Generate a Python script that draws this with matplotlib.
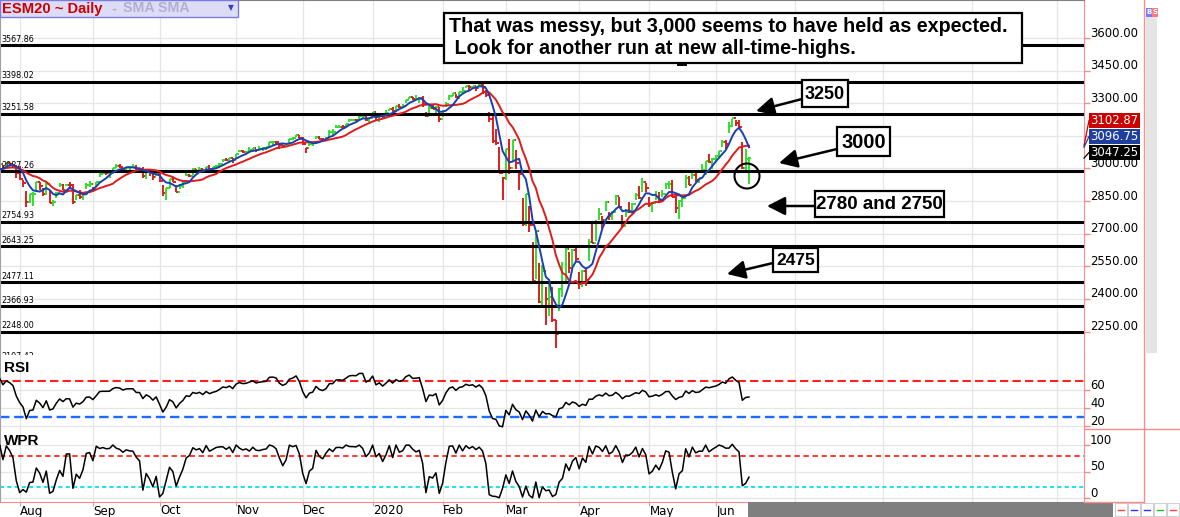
import numpy as np
import pandas as pd
import matplotlib
matplotlib.use("Agg")
import matplotlib.pyplot as plt
import matplotlib.transforms as mtransforms
from matplotlib.patches import Rectangle, FancyArrowPatch, Ellipse
from matplotlib.lines import Line2D

# ---------------- data ----------------
holidays = ['2019-07-04', '2019-09-02', '2019-11-28', '2019-12-25', '2020-01-01',
            '2020-01-20', '2020-02-17', '2020-04-10', '2020-05-25']
first_shown = '2019-07-25'

closes = [
    2964.3, 2973.0, 2995.8, 2990.4, 2976.0, 2979.6, 2993.1, 3004.0, 3013.8, 3014.3, 3004.0, 2984.4, 2995.1, 2976.6, 2985.0, 3005.5, 3019.6, 3003.7, 3025.9, 3021.0, 3013.2, 2980.4,
    2953.6, 2932.1, 2844.7, 2881.8, 2884.0, 2938.1, 2918.7, 2882.7, 2926.3, 2840.6, 2847.6, 2888.7, 2923.7, 2900.5, 2924.4, 2923.0, 2847.1, 2878.4, 2869.2, 2887.9, 2924.6, 2926.5,
    2906.3, 2937.8, 2976.0, 2978.7, 2978.4, 2979.4, 3000.9, 3009.6, 3007.4, 2998.0, 3005.7, 3006.7, 3006.8, 2992.1, 2991.8, 2966.6, 2984.9, 2977.6, 2961.8, 2976.7,
    2940.3, 2887.6, 2910.6, 2952.0, 2938.8, 2893.1, 2919.4, 2938.1, 2970.3, 2966.2, 2995.7, 2989.7, 2998.0, 2986.2, 3006.7, 2996.0, 3004.5, 3010.3, 3022.6, 3039.4, 3036.9, 3046.8, 3037.6,
    3066.9, 3078.3, 3074.6, 3076.8, 3085.2, 3093.1, 3087.0, 3091.8, 3094.0, 3096.6, 3120.5, 3122.0, 3120.2, 3108.5, 3103.5, 3110.3, 3133.6, 3140.5, 3153.6, 3141.0,
    3113.9, 3093.2, 3112.8, 3117.4, 3145.9, 3136.0, 3132.5, 3141.6, 3168.6, 3168.8, 3191.5, 3192.5, 3191.1, 3205.4, 3221.2, 3224.0, 3223.4, 3239.9, 3240.0, 3221.3, 3230.8,
    3257.9, 3234.9, 3246.3, 3237.2, 3253.1, 3274.7, 3265.4, 3288.1, 3283.2, 3289.3, 3316.8, 3329.6, 3320.8, 3321.8, 3325.5, 3295.5, 3243.6, 3276.2, 3273.4, 3283.7, 3225.5,
    3248.9, 3297.6, 3334.7, 3345.8, 3327.7, 3352.1, 3357.8, 3379.5, 3373.9, 3380.2, 3370.3, 3386.2, 3373.2, 3337.8, 3225.9, 3128.2, 3116.4, 2978.8, 2954.2,
    3090.2, 3003.4, 3130.1, 3023.9, 2972.4, 2746.6, 2882.2, 2741.4, 2480.6, 2711.0, 2386.1, 2529.2, 2398.1, 2409.4, 2304.9, 2237.4, 2447.3, 2475.6, 2630.1, 2541.5, 2626.7, 2584.6,
    2470.5, 2526.9, 2488.7, 2663.7, 2659.4, 2750.0, 2789.8, 2761.6, 2846.1, 2783.4, 2799.6, 2874.6, 2823.2, 2736.6, 2799.3, 2797.8, 2836.7, 2878.5, 2863.4, 2939.5, 2912.4,
    2830.7, 2842.7, 2868.4, 2848.4, 2881.2, 2929.8, 2930.3, 2870.1, 2820.0, 2852.5, 2863.7, 2953.9, 2922.9, 2971.6, 2948.5, 2955.5, 2991.8, 3036.1, 3029.7, 3044.3,
    3055.7, 3080.8, 3122.9, 3112.4, 3193.9, 3232.4, 3207.2, 3190.1, 3002.1, 3041.3, 3047.3,
]
highs = [
    2977.9, 2973.2, 2995.8, 2994.0, 2980.8, 2980.0, 3002.0, 3006.0, 3013.9, 3017.8, 3015.0, 3005.0, 2995.1, 3006.0, 2990.0, 3005.9, 3019.6, 3016.3, 3027.0, 3025.6, 3017.4, 3017.4,
    3013.6, 2945.5, 2898.1, 2884.4, 2892.2, 2938.7, 2935.9, 2909.0, 2943.3, 2900.0, 2856.7, 2893.6, 2931.0, 2927.0, 2928.7, 2939.1, 2927.0, 2879.3, 2898.8, 2890.0, 2930.9, 2940.4,
    2914.4, 2938.0, 2985.9, 2985.0, 2989.4, 2979.4, 3000.9, 3020.7, 3021.0, 3002.2, 3006.2, 3007.8, 3021.9, 3016.4, 2999.6, 3007.4, 2989.8, 2987.3, 2987.3, 2983.9,
    2992.5, 2925.0, 2911.1, 2953.0, 2959.8, 2925.5, 2929.3, 2948.5, 2993.3, 2972.3, 3003.3, 2997.5, 3008.3, 2999.7, 3008.3, 3014.6, 3004.8, 3016.1, 3027.4, 3044.0, 3047.9, 3050.1, 3047.0,
    3066.9, 3084.7, 3083.9, 3078.3, 3097.8, 3093.1, 3088.3, 3102.6, 3098.1, 3098.1, 3120.5, 3124.0, 3127.6, 3119.0, 3110.1, 3112.9, 3133.8, 3142.7, 3154.3, 3154.3,
    3144.3, 3094.9, 3119.4, 3119.5, 3150.6, 3148.9, 3142.1, 3143.0, 3176.3, 3182.7, 3197.7, 3198.2, 3198.5, 3205.5, 3225.6, 3227.8, 3226.4, 3240.1, 3247.9, 3240.9, 3231.7,
    3258.1, 3246.2, 3246.8, 3244.9, 3267.1, 3275.6, 3282.0, 3288.1, 3294.3, 3298.7, 3317.1, 3329.9, 3329.5, 3337.8, 3326.9, 3333.2, 3258.9, 3285.8, 3293.5, 3285.9, 3282.5,
    3268.4, 3306.9, 3337.6, 3348.0, 3341.4, 3352.3, 3375.6, 3381.5, 3385.1, 3380.7, 3375.0, 3393.5, 3393.5, 3360.8, 3259.8, 3246.9, 3182.5, 3097.4, 2959.7,
    3090.9, 3136.7, 3130.9, 3083.0, 2985.9, 2863.9, 2882.6, 2825.6, 2660.9, 2711.3, 2562.9, 2553.9, 2453.6, 2466.9, 2453.0, 2300.7, 2449.7, 2571.4, 2637.0, 2615.9, 2631.8, 2641.4,
    2522.8, 2533.2, 2538.2, 2676.5, 2756.9, 2760.8, 2818.6, 2782.5, 2851.9, 2801.9, 2806.5, 2879.2, 2868.3, 2785.5, 2815.1, 2844.9, 2842.7, 2887.7, 2921.4, 2954.9, 2930.9,
    2869.6, 2844.2, 2898.2, 2891.1, 2901.2, 2932.2, 2944.3, 2945.8, 2874.1, 2852.8, 2865.0, 2968.1, 2964.2, 2980.3, 2978.5, 2956.8, 3021.7, 3036.3, 3068.7, 3049.2,
    3062.2, 3081.1, 3130.9, 3128.9, 3211.7, 3228.0, 3222.7, 3223.3, 3123.4, 3090.0, 3055.0,
]
lows = [
    2952.2, 2955.0, 2977.0, 2967.0, 2970.0, 2962.0, 2984.0, 2988.0, 3001.0, 3008.0, 3001.0, 2984.0, 2970.0, 2975.0, 2976.0, 2988.0, 2996.0, 2996.0, 3008.0, 3013.0, 3000.0, 2958.0,
    2945.2, 2914.1, 2822.1, 2839.6, 2825.7, 2891.1, 2900.1, 2873.1, 2877.1, 2839.6, 2825.5, 2862.0, 2913.5, 2899.5, 2917.1, 2904.0, 2834.9, 2856.0, 2860.0, 2853.1, 2905.4, 2914.0,
    2891.9, 2921.1, 2960.0, 2972.3, 2969.4, 2957.0, 2975.3, 3000.9, 3003.0, 2990.7, 2993.7, 2978.6, 3003.2, 2982.2, 2982.2, 2957.1, 2953.0, 2964.1, 2945.5, 2967.1,
    2938.5, 2874.9, 2855.9, 2911.6, 2935.8, 2892.3, 2907.4, 2912.1, 2963.4, 2962.0, 2969.0, 2985.8, 2991.2, 2976.9, 2995.4, 2995.3, 2988.3, 3000.4, 3001.9, 3032.0, 3034.2, 3023.7, 3023.2,
    3050.1, 3074.4, 3070.3, 3065.9, 3080.4, 3073.6, 3075.4, 3084.7, 3078.8, 3083.3, 3104.6, 3109.0, 3113.5, 3091.4, 3094.6, 3099.3, 3117.4, 3131.0, 3143.4, 3139.3,
    3110.1, 3070.3, 3102.5, 3103.8, 3134.6, 3135.5, 3126.1, 3133.3, 3138.5, 3154.3, 3184.0, 3191.0, 3191.1, 3192.3, 3216.0, 3222.0, 3220.5, 3227.8, 3234.4, 3216.6, 3212.0,
    3235.5, 3222.0, 3214.6, 3232.9, 3236.7, 3263.7, 3260.4, 3268.4, 3277.2, 3280.7, 3302.0, 3318.9, 3316.6, 3320.0, 3301.9, 3281.5, 3234.5, 3250.0, 3271.9, 3242.8, 3214.6,
    3235.7, 3280.6, 3313.8, 3334.2, 3322.0, 3317.8, 3352.7, 3369.7, 3360.5, 3367.0, 3355.6, 3378.8, 3340.3, 3328.5, 3214.7, 3118.8, 3108.0, 2977.0, 2855.8,
    2945.2, 2976.6, 3034.4, 2999.8, 2901.5, 2734.4, 2734.0, 2707.2, 2478.9, 2492.4, 2380.9, 2367.0, 2280.5, 2319.8, 2295.6, 2174.0, 2345.0, 2407.0, 2467.0, 2520.0, 2545.0, 2571.0,
    2447.5, 2455.8, 2459.0, 2574.7, 2657.7, 2664.2, 2762.4, 2721.2, 2805.1, 2761.5, 2764.3, 2830.1, 2820.0, 2727.1, 2775.9, 2794.3, 2791.8, 2852.9, 2860.2, 2894.0, 2892.5,
    2821.6, 2797.9, 2852.8, 2847.7, 2866.5, 2903.4, 2903.4, 2869.6, 2793.2, 2766.6, 2820.5, 2909.0, 2922.1, 2953.6, 2938.6, 2933.6, 2988.2, 2969.8, 3023.4, 2998.6,
    3031.5, 3051.6, 3098.0, 3090.4, 3163.3, 3193.0, 3193.1, 3181.5, 2999.4, 2984.0, 2930.0,
]

support_levels = [3567.86, 3398.02, 3251.58, 2987.26, 2754.93, 2643.25, 2477.11, 2366.93, 2248.00, 2107.42]
price_ticks = [2250, 2400, 2550, 2700, 2850, 3000, 3150, 3300, 3450, 3600]
hidden_price_labels = [3150]          # covered by the last-value tags in the reference
rsi_ticks = [20, 40, 60]
wpr_ticks = [0, 50, 100]
rsi_levels = [70, 30]
wpr_levels = [80, 20]
month_labels = ['Aug', 'Sep', 'Oct', 'Nov', 'Dec', '2020', 'Feb', 'Mar', 'Apr', 'May', 'Jun',
                'Jul', 'Aug', 'Sep', 'Oct']
last_labels = ['3102.87', '3096.75', '3047.25']
notes = ['3250', '3000', '2780 and 2750', '2475']
headline = ['That was messy, but 3,000 seems to have held as expected.',
            ' Look for another run at new all-time-highs.']

# ---------------- derived series ----------------
dates = pd.bdate_range('2019-07-01', '2020-06-15', freq='C', holidays=holidays)
df = pd.DataFrame({'close': closes, 'high': highs, 'low': lows}, index=dates)
df['open'] = df['close'].shift(1).fillna(df['close'])
n0 = int(np.searchsorted(dates, pd.Timestamp(first_shown)))
x = np.arange(len(df)) - n0
sma_fast = df['close'].rolling(5).mean()
sma_slow = df['close'].rolling(13).mean()
delta = df['close'].diff()
gain = delta.clip(lower=0).ewm(alpha=1/14, adjust=False).mean()
loss = (-delta.clip(upper=0)).ewm(alpha=1/14, adjust=False).mean()
rsi = 100 - 100 / (1 + gain / loss)
hh = df['high'].rolling(14, min_periods=1).max()
ll = df['low'].rolling(14, min_periods=1).min()
wpr = (df['close'] - ll) / (hh - ll) * 100

month_starts = pd.date_range('2019-08-01', '2020-10-01', freq='MS')
month_x = []
for m in month_starts:
    if m <= dates[-1]:
        month_x.append(x[np.searchsorted(dates, m)])
    else:
        month_x.append(x[-1] + (m - dates[-1]).days * 6 / 7)

# ---------------- figure ----------------
W, H = 1180, 517
plt.rcParams['font.family'] = ['DejaVu Sans']
fig = plt.figure(figsize=(W / 100, H / 100), dpi=100)
fig.patch.set_facecolor('white')


def fx(px):
    return px / W


def fy(py):
    return 1 - py / H


AXR = 1084
XL = (-0.9, 324.6)
GRID = '#e6e6e6'
AXRED = '#ff8a8a'

ax = fig.add_axes([0, fy(355), fx(AXR), 355 / H])
ax_r = fig.add_axes([0, fy(429), fx(AXR), 74 / H])
ax_w = fig.add_axes([0, fy(502), fx(AXR), 73 / H])

for a in (ax, ax_r, ax_w):
    a.set_xlim(*XL)
    a.set_facecolor('white')
    a.set_xticks(month_x)
    a.tick_params(axis='x', labelbottom=False, length=0)
    a.yaxis.tick_right()
    a.tick_params(axis='y', length=4, color=AXRED, width=1, labelright=False, labelleft=False)
    for v in month_x:
        a.axvline(v, color=GRID, lw=0.9, zorder=0)
    a.spines['left'].set_color('#a0a0a0')
    a.spines['right'].set_color(AXRED)
    a.spines['top'].set_visible(False)
    a.spines['bottom'].set_visible(False)
ax.spines['top'].set_visible(True)
ax.spines['top'].set_color('#808080')
ax_w.spines['bottom'].set_visible(True)
ax_w.spines['bottom'].set_color(AXRED)
ax_w.tick_params(axis='x', length=3, color=AXRED, direction='out')


def right_labels(a, vals, fmt, skip=()):
    tr = mtransforms.blended_transform_factory(a.transAxes, a.transData) + \
        mtransforms.ScaledTranslation(6 / 100, 5 / 100, fig.dpi_scale_trans)
    for v in vals:
        if v in skip:
            continue
        a.text(1.0, v, fmt.format(v), transform=tr, ha='left', va='center',
               fontsize=8.4, color='black', clip_on=False)


# price panel
ax.set_ylim(2141.9, 3774.9)
ax.set_yticks(price_ticks)
for v in price_ticks:
    ax.axhline(v, color=GRID, lw=0.9, zorder=0)
right_labels(ax, price_ticks, '{:.2f}', skip=hidden_price_labels)

up = df['close'] >= df['open']
cols = np.where(up, '#2fe02f', '#e01c1c')
ax.vlines(x, df['low'], df['high'], colors=cols, lw=1.4, zorder=2)
ax.hlines(df['open'], x - 0.6, x, colors=cols, lw=1.4, zorder=2)
ax.hlines(df['close'], x, x + 0.6, colors=cols, lw=1.4, zorder=2)

for lv in support_levels:
    ax.axhline(lv, color='black', lw=2.2, zorder=2.5)
    ax.text(0.0015, lv, f'{lv:.2f}', transform=mtransforms.blended_transform_factory(ax.transAxes, ax.transData)
            + mtransforms.ScaledTranslation(0, 1.5 / 100, fig.dpi_scale_trans),
            fontsize=5.8, va='bottom', ha='left', color='black', clip_on=True, zorder=2.6)

ax.plot(x, sma_slow, color='#e01b1b', lw=1.4, zorder=3)
ax.plot(x, sma_fast, color='#1b3fb0', lw=1.4, zorder=3.1)

# RSI panel
ax_r.set_ylim(16.7, 98.9)
ax_r.set_yticks(rsi_ticks)
for v in rsi_ticks:
    ax_r.axhline(v, color=GRID, lw=0.9, zorder=0)
right_labels(ax_r, rsi_ticks, '{:d}')
ax_r.axhline(rsi_levels[0], color='#ff2020', lw=1.5, ls=(0, (4, 2)), zorder=1)
ax_r.axhline(rsi_levels[1], color='#1a6cff', lw=1.7, ls=(0, (4, 2)), zorder=1)
ax_r.plot(x, rsi, color='black', lw=1.1, zorder=3)
ax_r.text(0.004, 0.83, 'RSI', transform=ax_r.transAxes, fontsize=11, fontweight='bold',
          family='Liberation Sans', va='center', ha='left')

# WPR panel
ax_w.set_ylim(-7.5, 130.2)
ax_w.set_yticks(wpr_ticks)
for v in wpr_ticks:
    ax_w.axhline(v, color=GRID, lw=0.9, zorder=0)
right_labels(ax_w, wpr_ticks, '{:d}')
ax_w.axhline(wpr_levels[0], color='#ff2a2a', lw=1.3, ls=(0, (3, 2)), zorder=1)
ax_w.axhline(wpr_levels[1], color='#22e4e4', lw=1.5, ls=(0, (2, 1.5)), zorder=1)
ax_w.plot(x, wpr, color='black', lw=1.1, zorder=3)
ax_w.text(0.004, 0.84, 'WPR', transform=ax_w.transAxes, fontsize=11, fontweight='bold',
          family='Liberation Sans', va='center', ha='left')

# month labels
mtr = mtransforms.blended_transform_factory(ax_w.transData, ax_w.transAxes) + \
    mtransforms.ScaledTranslation(0.5 / 100, -9 / 100, fig.dpi_scale_trans)
for mx, lab in zip(month_x, month_labels):
    ax_w.text(mx, 0, lab, transform=mtr, fontsize=8.6, ha='left', va='center', clip_on=False, zorder=5)

# ---------------- frame decorations ----------------
fig.add_artist(Rectangle((fx(748), fy(517)), fx(1113) - fx(748), 15 / H, transform=fig.transFigure,
                         facecolor='#7f7f7f', edgecolor='none', zorder=0.5))
fig.add_artist(Line2D([fx(1144), fx(1144)], [fy(0), fy(502)], color=AXRED, lw=1, transform=fig.transFigure))
fig.add_artist(Line2D([fx(AXR), fx(W)], [fy(429), fy(429)], color=AXRED, lw=1, transform=fig.transFigure))
fig.add_artist(Line2D([fx(AXR), fx(1144)], [fy(502), fy(502)], color=AXRED, lw=1, transform=fig.transFigure))
fig.add_artist(Rectangle((fx(1146), fy(353)), fx(11), 336 / H, transform=fig.transFigure,
                         facecolor='#e4e4e4', edgecolor='none'))
for bx, lab, c in [(1146, 'B', '#7a7aff'), (1152, 'S', '#ff7a7a')]:
    fig.add_artist(Rectangle((fx(bx), fy(17)), fx(6), 9 / H, transform=fig.transFigure,
                             facecolor=c, edgecolor='none'))
    fig.text(fx(bx + 3), fy(12.5), lab, color='white', fontsize=5, ha='center', va='center',
             fontweight='bold')
for i, c in enumerate(['#ff4040', '#3030ff', '#3030ff', '#20c020', '#ff4040']):
    bx = 1115 + i * 13
    fig.add_artist(Rectangle((fx(bx), fy(516)), fx(12), 13 / H, transform=fig.transFigure,
                             facecolor='white', edgecolor='#d0d0d0', lw=0.8))
    fig.add_artist(Line2D([fx(bx + 3), fx(bx + 9)], [fy(509.5), fy(509.5)], color=c, lw=1,
                          transform=fig.transFigure))

# last value tags
tag_cols = ['#cc0000', '#1f3f9f', '#000000']
tag_y = [120.5, 136.5, 152.5]
tag_src = [sma_slow.iloc[-1], sma_fast.iloc[-1], df['close'].iloc[-1]]
for lab, c, ty, sv in zip(last_labels, tag_cols, tag_y, tag_src):
    fig.add_artist(Rectangle((fx(1089), fy(ty + 7.5)), fx(51), 15 / H, transform=fig.transFigure,
                             facecolor=c, edgecolor='none', zorder=5))
    fig.text(fx(1114.5), fy(ty), lab, color='white', fontsize=8.4, ha='center', va='center', zorder=6)
    sy = ax.transData.transform((0, sv))[1] / H
    fig.add_artist(Line2D([fx(AXR), fx(1089)], [sy, fy(ty)], color=c, lw=0.9,
                          transform=fig.transFigure, zorder=4))

# header box
fig.add_artist(Rectangle((0, fy(17)), fx(238), 17 / H, transform=fig.transFigure,
                         facecolor='#dcdcf6', edgecolor='#7c7ce0', lw=1, zorder=5))
fig.text(fx(2), fy(8.5), 'ESM20 ~ Daily', color='#cc0000', fontsize=10.6, fontweight='bold',
         family='Liberation Sans', va='center', ha='left', zorder=6)
fig.text(fx(111), fy(8.5), '-', color='#b0b0d2', fontsize=10.6, fontweight='bold',
         family='Liberation Sans', va='center', ha='left', zorder=6)
fig.text(fx(123), fy(8.5), 'SMA SMA', color='#b0b0d2', fontsize=10.2, fontweight='bold',
         family='Liberation Sans', va='center', ha='left', zorder=6)
fig.text(fx(231), fy(8), '\u25BC', color='#3a3ac8', fontsize=5.5, va='center', ha='center', zorder=6)


# annotations
def box(x0, y0, x1, y1, lw=1.6):
    fig.add_artist(Rectangle((fx(x0), fy(y1)), fx(x1 - x0), (y1 - y0) / H, transform=fig.transFigure,
                             facecolor='white', edgecolor='black', lw=lw, zorder=7))


def arrow(x0, y0, x1, y1):
    fig.add_artist(FancyArrowPatch((fx(x0), fy(y0)), (fx(x1), fy(y1)), transform=fig.transFigure,
                                   arrowstyle='-|>,head_length=0.55,head_width=0.28', mutation_scale=20,
                                   lw=1.8, color='black', shrinkA=0, shrinkB=0, zorder=7))


box(444, 13, 1022, 63)
fig.text(fx(449), fy(26), headline[0], fontsize=14.2, fontweight='bold', family='Liberation Sans',
         va='center', ha='left', zorder=8)
fig.text(fx(449), fy(48), headline[1], fontsize=14.2, fontweight='bold', family='Liberation Sans',
         va='center', ha='left', zorder=8)
fig.add_artist(Line2D([fx(678), fx(686)], [fy(64.5), fy(64.5)], color='black', lw=1.4,
                      transform=fig.transFigure, zorder=6))

note_boxes = [(802, 80, 848, 107, 13), (837, 127, 890, 156, 14.5), (815, 191, 944, 217, 13.5), (773, 248, 818, 272, 12.5)]
note_arrows = [(802, 99, 756, 111), (837, 149, 779, 163), (815, 206, 767, 206), (773, 263, 727, 274)]
for (x0, y0, x1, y1, fs), lab, ar in zip(note_boxes, notes, note_arrows):
    box(x0, y0, x1, y1)
    fig.text(fx((x0 + x1) / 2), fy((y0 + y1) / 2 + 0.5), lab, fontsize=fs, fontweight='bold',
             family='Liberation Sans', ha='center', va='center', zorder=8)
    arrow(*ar)

fig.add_artist(Ellipse((fx(747), fy(176)), 25 / W, 25 / H, transform=fig.transFigure, fill=False,
                       edgecolor='black', lw=1.5, zorder=7))

fig.savefig('out.png', dpi=100, facecolor='white')
